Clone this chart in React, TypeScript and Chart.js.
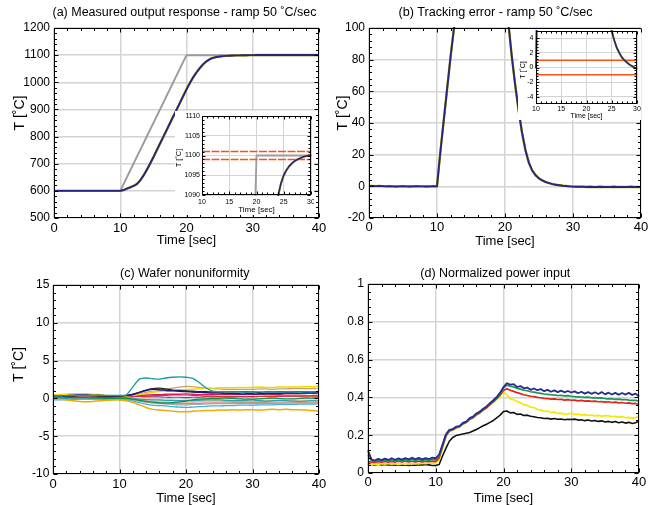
import { useEffect, useRef } from "react";
import { Chart, registerables } from "chart.js";

Chart.register(...registerables);

const FONT = '"Liberation Sans", Arial, Helvetica, sans-serif';
Chart.defaults.font.family = FONT;
Chart.defaults.color = "#000";

// ---------- shared time bases ----------
const TIME_HALF = [0, 0.5, 1, 1.5, 2, 2.5, 3, 3.5, 4, 4.5, 5, 5.5, 6, 6.5, 7, 7.5, 8, 8.5, 9, 9.5, 10, 10.5, 11, 11.5, 12, 12.5, 13, 13.5, 14, 14.5, 15, 15.5, 16, 16.5, 17, 17.5, 18, 18.5, 19, 19.5, 20, 20.5, 21, 21.5, 22, 22.5, 23, 23.5, 24, 24.5, 25, 25.5, 26, 26.5, 27, 27.5, 28, 28.5, 29, 29.5, 30, 30.5, 31, 31.5, 32, 32.5, 33, 33.5, 34, 34.5, 35, 35.5, 36, 36.5, 37, 37.5, 38, 38.5, 39, 39.5, 40];
const TIME_ONE = [0, 1, 2, 3, 4, 5, 6, 7, 8, 9, 10, 11, 12, 13, 14, 15, 16, 17, 18, 19, 20, 21, 22, 23, 24, 25, 26, 27, 28, 29, 30, 31, 32, 33, 34, 35, 36, 37, 38, 39, 40];

// ---------- tick labels ----------
const MAIN_X_TICKS = [0, 10, 20, 30, 40];
const INSET_X_TICKS = [10, 15, 20, 25, 30];
const INSET_X_RANGE = [10, 30];
const A_Y_TICKS = [500, 600, 700, 800, 900, 1000, 1100, 1200];
const INSET_A_Y_TICKS = [1090, 1095, 1100, 1105, 1110];
const B_Y_TICKS = [-20, 0, 20, 40, 60, 80, 100];
const INSET_B_Y_TICKS = [-4, -2, 0, 2, 4];
const INSET_B_Y_RANGE = [-5, 5];
const C_Y_TICKS = [-10, -5, 0, 5, 10, 15];
const D_Y_TICKS = [0, 0.2, 0.4, 0.6, 0.8, 1];

// ---------- (a) measured output response ----------
const REF_TIME = [0, 10, 20, 40];
const REF_TEMP = [600, 600, 1100, 1100];
const MEASURED_TEMP = [
  600, 600, 600, 600, 600, 600, 600, 600, 600, 600, 600, 600, 600, 600, 600, 600, 600, 600, 600, 600, 600,
  603, 608, 613, 618, 625, 638, 656, 677, 700, 724, 749, 774, 799, 824, 849, 874, 899, 924, 949, 974,
  997, 1018, 1036, 1052, 1066, 1077, 1085, 1090, 1093, 1095, 1096.3, 1097.3, 1098, 1098.6, 1099, 1099.3, 1099.6, 1099.8, 1100, 1100.2,
  1100.3, 1100.3, 1100.3, 1100.4, 1100.3, 1100.4, 1100.4, 1100.3, 1100.4, 1100.4, 1100.4, 1100.3, 1100.4, 1100.4, 1100.4, 1100.4, 1100.3, 1100.4, 1100.4, 1100.4,
];
const BAND_A = [1099, 1101];

// ---------- (b) tracking error ----------
const TRACK_ERR = [
  0.3, 0.2, 0.1, 0.2, 0.1, 0, 0.1, 0, -0.1, 0, 0.1, 0, -0.1, 0, 0.1, 0, 0, -0.1, 0, 0.1, 0,
  22, 42, 62, 82, 100, 112, 119, 123, 125, 126, 126, 126, 126, 126, 126, 126, 126, 126, 126, 126,
  103, 82, 64, 48, 34, 23, 15, 10, 7, 5, 3.7, 2.7, 2.0, 1.4, 1.0, 0.7, 0.4, 0.2, 0, -0.2,
  -0.3, -0.3, -0.3, -0.4, -0.3, -0.4, -0.4, -0.3, -0.4, -0.4, -0.4, -0.3, -0.4, -0.4, -0.4, -0.4, -0.3, -0.4, -0.4, -0.4,
];
const BAND_B = [-1, 1];

// ---------- (c) wafer nonuniformity (one value per second) ----------
const NU_TEAL = [0.3, 0.3, 0.35, 0.4, 0.4, 0.4, 0.4, 0.4, 0.4, 0.4, 0.4, 0.45, 1.5, 2.55, 2.7, 2.6, 2.55, 2.7, 2.8, 2.85, 2.8, 2.65, 2.1, 1.4, 0.95, 0.9, 0.9, 0.85, 0.85, 0.8, 0.85, 0.85, 0.8, 0.85, 0.8, 0.85, 0.85, 0.8, 0.85, 0.85, 0.9];
const NU_GOLD = [0.1, -0.1, -0.2, -0.3, -0.4, -0.45, -0.4, -0.3, -0.25, -0.2, -0.2, -0.3, -0.5, -0.85, -1.2, -1.45, -1.55, -1.6, -1.7, -1.75, -1.75, -1.7, -1.65, -1.6, -1.6, -1.55, -1.55, -1.5, -1.55, -1.5, -1.5, -1.55, -1.5, -1.45, -1.5, -1.45, -1.5, -1.5, -1.55, -1.6, -1.7];
const NU_YELLOW = [0.45, 0.5, 0.55, 0.6, 0.6, 0.6, 0.55, 0.5, 0.4, 0.3, 0.25, 0.3, 0.4, 0.5, 0.65, 0.8, 0.9, 1.0, 1.05, 1.1, 1.15, 1.2, 1.3, 1.35, 1.35, 1.4, 1.4, 1.4, 1.45, 1.45, 1.45, 1.5, 1.45, 1.45, 1.5, 1.5, 1.5, 1.5, 1.55, 1.55, 1.6];
const NU_TAN = [0.4, 0.4, 0.35, 0.3, 0.3, 0.3, 0.3, 0.3, 0.3, 0.3, 0.3, 0.35, 0.45, 0.6, 0.8, 0.95, 1.05, 1.2, 1.35, 1.5, 1.6, 1.55, 1.45, 1.35, 1.3, 1.25, 1.2, 1.2, 1.2, 1.2, 1.2, 1.25, 1.25, 1.2, 1.25, 1.25, 1.3, 1.3, 1.3, 1.3, 1.3];
const NU_NAVY = [0.3, 0.3, 0.35, 0.4, 0.45, 0.45, 0.4, 0.4, 0.35, 0.35, 0.35, 0.4, 0.55, 0.8, 1.05, 1.2, 1.15, 1.05, 1.0, 0.95, 0.9, 0.85, 0.8, 0.75, 0.7, 0.7, 0.65, 0.65, 0.6, 0.6, 0.6, 0.6, 0.65, 0.65, 0.65, 0.7, 0.7, 0.7, 0.75, 0.75, 0.8];
const NU_BLACK = [0.2, 0.25, 0.3, 0.3, 0.35, 0.35, 0.35, 0.3, 0.3, 0.3, 0.3, 0.35, 0.5, 0.8, 1.1, 1.3, 1.35, 1.25, 1.1, 1.05, 1.0, 0.95, 0.9, 0.9, 0.85, 0.85, 0.85, 0.85, 0.85, 0.85, 0.85, 0.8, 0.85, 0.85, 0.85, 0.85, 0.85, 0.85, 0.85, 0.85, 0.85];
const NU_CRIMSON = [0.2, 0.2, 0.25, 0.2, 0.2, 0.2, 0.2, 0.15, 0.15, 0.15, 0.15, 0.2, 0.25, 0.35, 0.45, 0.5, 0.5, 0.55, 0.55, 0.55, 0.6, 0.55, 0.5, 0.5, 0.5, 0.5, 0.5, 0.5, 0.5, 0.5, 0.5, 0.5, 0.55, 0.55, 0.55, 0.6, 0.6, 0.6, 0.65, 0.65, 0.65];
const NU_RED = [0.35, 0.35, 0.3, 0.3, 0.3, 0.3, 0.3, 0.3, 0.25, 0.25, 0.25, 0.25, 0.3, 0.3, 0.3, 0.35, 0.4, 0.4, 0.45, 0.45, 0.45, 0.4, 0.35, 0.3, 0.3, 0.25, 0.25, 0.2, 0.2, 0.2, 0.2, 0.25, 0.25, 0.25, 0.3, 0.3, 0.3, 0.3, 0.3, 0.3, 0.3];
const NU_PURPLE = [0.5, 0.5, 0.45, 0.45, 0.4, 0.4, 0.4, 0.35, 0.35, 0.3, 0.3, 0.3, 0.3, 0.25, 0.2, 0.2, 0.2, 0.15, 0.15, 0.15, 0.1, 0.15, 0.15, 0.2, 0.2, 0.2, 0.2, 0.2, 0.25, 0.25, 0.25, 0.25, 0.3, 0.3, 0.3, 0.3, 0.3, 0.3, 0.35, 0.35, 0.35];
const NU_GREEN = [0.2, 0.2, 0.15, 0.1, 0.1, 0.1, 0.05, 0.05, 0, 0, 0, 0, -0.1, -0.25, -0.4, -0.5, -0.6, -0.6, -0.55, -0.45, -0.35, -0.2, -0.1, -0.05, 0, 0, 0.05, 0, -0.05, -0.1, -0.1, -0.05, 0, 0.05, 0, -0.05, -0.05, 0, 0.05, 0.05, 0.1];
const NU_CYAN = [0, 0, 0, 0.05, 0.05, 0.05, 0.05, 0.05, 0.05, 0, 0, 0, -0.05, -0.1, -0.15, -0.2, -0.2, -0.25, -0.25, -0.3, -0.3, -0.3, -0.25, -0.2, -0.2, -0.2, -0.25, -0.3, -0.3, -0.25, -0.2, -0.3, -0.35, -0.3, -0.25, -0.3, -0.35, -0.4, -0.35, -0.3, -0.35];
const NU_SKY = [-0.2, -0.2, -0.15, -0.15, -0.1, -0.1, -0.1, -0.1, -0.15, -0.15, -0.15, -0.2, -0.35, -0.55, -0.75, -0.9, -0.95, -1.0, -1.1, -1.15, -1.2, -1.15, -1.1, -1.05, -1.0, -1.0, -0.95, -0.95, -0.9, -0.9, -0.9, -0.85, -0.85, -0.85, -0.8, -0.8, -0.8, -0.75, -0.75, -0.75, -0.7];
const NU_PINK = [0.1, 0.1, 0.1, 0.05, 0.05, 0.05, 0.05, 0.05, 0.1, 0.1, 0.1, 0.05, -0.05, -0.15, -0.3, -0.4, -0.45, -0.5, -0.5, -0.5, -0.5, -0.5, -0.45, -0.45, -0.45, -0.45, -0.4, -0.4, -0.4, -0.4, -0.4, -0.4, -0.4, -0.4, -0.45, -0.45, -0.45, -0.45, -0.45, -0.45, -0.45];
const NU_BROWN = [0.15, 0.15, 0.1, 0.05, 0.05, 0.05, 0, 0, 0, 0, 0, -0.05, -0.15, -0.3, -0.45, -0.55, -0.6, -0.65, -0.7, -0.7, -0.7, -0.65, -0.65, -0.6, -0.6, -0.6, -0.6, -0.55, -0.55, -0.55, -0.55, -0.55, -0.55, -0.6, -0.6, -0.6, -0.55, -0.55, -0.55, -0.55, -0.55];
const NU_GREY = [0, 0, 0, 0, -0.05, -0.05, -0.05, -0.05, -0.05, -0.05, -0.05, -0.1, -0.2, -0.35, -0.5, -0.6, -0.7, -0.75, -0.8, -0.85, -0.85, -0.8, -0.8, -0.75, -0.7, -0.7, -0.7, -0.7, -0.7, -0.65, -0.65, -0.65, -0.65, -0.65, -0.6, -0.6, -0.6, -0.6, -0.6, -0.6, -0.6];
const NU_PEACH = [0.35, 0.35, 0.3, 0.3, 0.25, 0.25, 0.25, 0.2, 0.2, 0.2, 0.2, 0.15, 0.1, 0, -0.1, -0.2, -0.25, -0.3, -0.3, -0.3, -0.3, -0.3, -0.3, -0.25, -0.25, -0.25, -0.25, -0.25, -0.3, -0.3, -0.3, -0.3, -0.3, -0.3, -0.3, -0.3, -0.3, -0.25, -0.25, -0.25, -0.25];

// ---------- (d) normalized power input (every 0.5 s) ----------
const POWER_NAVY = [
  0.120, 0.072, 0.066, 0.075, 0.068, 0.076, 0.069, 0.078, 0.070, 0.077, 0.071, 0.079, 0.072, 0.081, 0.073, 0.080, 0.072, 0.079, 0.074, 0.081, 0.078,
  0.098, 0.150, 0.205, 0.228, 0.232, 0.245, 0.248, 0.265, 0.272, 0.290, 0.298, 0.315, 0.325, 0.340, 0.352, 0.370, 0.385, 0.402, 0.425, 0.455,
  0.475, 0.468, 0.470, 0.455, 0.460, 0.448, 0.452, 0.440, 0.447, 0.438, 0.444, 0.433, 0.440, 0.430, 0.437, 0.428, 0.436, 0.427, 0.434, 0.426,
  0.432, 0.422, 0.430, 0.420, 0.428, 0.419, 0.427, 0.418, 0.428, 0.416, 0.425, 0.415, 0.424, 0.414, 0.423, 0.415, 0.424, 0.413, 0.420, 0.405,
];
const POWER_GREEN = [
  0.095, 0.066, 0.062, 0.068, 0.063, 0.069, 0.064, 0.070, 0.065, 0.071, 0.065, 0.071, 0.066, 0.072, 0.066, 0.072, 0.066, 0.071, 0.067, 0.073, 0.072,
  0.090, 0.145, 0.200, 0.225, 0.230, 0.242, 0.247, 0.262, 0.270, 0.287, 0.296, 0.312, 0.322, 0.337, 0.350, 0.367, 0.382, 0.398, 0.420, 0.450,
  0.465, 0.460, 0.455, 0.448, 0.444, 0.438, 0.435, 0.430, 0.428, 0.424, 0.421, 0.418, 0.416, 0.414, 0.412, 0.410, 0.411, 0.408, 0.409, 0.406,
  0.404, 0.403, 0.402, 0.400, 0.401, 0.398, 0.399, 0.396, 0.397, 0.394, 0.392, 0.393, 0.390, 0.391, 0.388, 0.389, 0.386, 0.384, 0.385, 0.378,
];
const POWER_RED = [
  0.060, 0.058, 0.056, 0.060, 0.057, 0.061, 0.057, 0.061, 0.058, 0.062, 0.058, 0.062, 0.058, 0.062, 0.059, 0.063, 0.059, 0.062, 0.060, 0.063, 0.062,
  0.080, 0.140, 0.195, 0.222, 0.228, 0.240, 0.245, 0.260, 0.268, 0.284, 0.293, 0.308, 0.318, 0.333, 0.345, 0.362, 0.377, 0.393, 0.412, 0.438,
  0.445, 0.438, 0.432, 0.425, 0.420, 0.414, 0.410, 0.406, 0.404, 0.400, 0.398, 0.395, 0.394, 0.391, 0.392, 0.389, 0.390, 0.386, 0.388, 0.385,
  0.386, 0.382, 0.384, 0.380, 0.382, 0.379, 0.380, 0.377, 0.378, 0.375, 0.377, 0.373, 0.375, 0.371, 0.373, 0.369, 0.371, 0.367, 0.368, 0.362,
];
const POWER_YELLOW = [
  0.040, 0.045, 0.048, 0.046, 0.050, 0.047, 0.051, 0.047, 0.050, 0.046, 0.049, 0.046, 0.050, 0.047, 0.051, 0.048, 0.052, 0.049, 0.053, 0.050, 0.055,
  0.070, 0.130, 0.190, 0.220, 0.226, 0.235, 0.243, 0.258, 0.265, 0.283, 0.290, 0.308, 0.317, 0.333, 0.343, 0.360, 0.374, 0.390, 0.408, 0.430,
  0.412, 0.392, 0.388, 0.378, 0.372, 0.362, 0.358, 0.348, 0.346, 0.336, 0.334, 0.326, 0.328, 0.320, 0.322, 0.315, 0.317, 0.311, 0.313, 0.316,
  0.310, 0.312, 0.306, 0.309, 0.304, 0.307, 0.302, 0.305, 0.300, 0.304, 0.302, 0.299, 0.300, 0.296, 0.298, 0.292, 0.294, 0.290, 0.293, 0.300,
];
const POWER_BLACK = [
  0.050, 0.045, 0.043, 0.046, 0.042, 0.045, 0.042, 0.044, 0.041, 0.044, 0.041, 0.043, 0.040, 0.043, 0.041, 0.044, 0.042, 0.045, 0.043, 0.040, 0.040,
  0.045, 0.090, 0.130, 0.168, 0.188, 0.198, 0.202, 0.206, 0.210, 0.214, 0.222, 0.230, 0.240, 0.250, 0.258, 0.268, 0.278, 0.292, 0.306, 0.325,
  0.328, 0.318, 0.320, 0.310, 0.312, 0.304, 0.306, 0.300, 0.298, 0.294, 0.292, 0.288, 0.290, 0.285, 0.288, 0.284, 0.286, 0.282, 0.284, 0.283,
  0.285, 0.280, 0.282, 0.277, 0.280, 0.275, 0.278, 0.273, 0.276, 0.270, 0.273, 0.268, 0.272, 0.266, 0.270, 0.264, 0.268, 0.262, 0.266, 0.275,
];

// ---------- helpers ----------
type Box = { left: number; top: number; width: number; height: number };
type Area = { left: number; top: number; right: number; bottom: number };
type Txt = { text: string; x: number; y: number; size: number };
type PanelSpec = {
  id: string;
  box: Box;
  area: Area;
  xRange: number[];
  yRange: number[];
  xTicks: number[];
  yTicks: number[];
  xFont: number;
  yFont: number;
  xPad: number;
  yPad: number;
  xTitle?: { text: string; size: number; lineHeight: number; pad: number };
  title?: Txt;
  yTitle?: Txt;
  minor: number;
  majorLen: number;
  minorLen: number;
  gridWidth: number;
  gridColor: string;
  background?: string;
  datasets: any[];
};

function series(xs: number[], ys: number[], color: string, width: number, extra: any = {}) {
  return {
    data: ys.map((y, i) => ({ x: xs[i], y })),
    borderColor: color,
    backgroundColor: color,
    borderWidth: width,
    pointRadius: 0,
    fill: false,
    tension: 0,
    clip: 1,
    borderJoinStyle: "round",
    ...extra,
  };
}

function flat(range: number[], v: number, color: string, width: number, extra: any = {}) {
  return series(range, [v, v], color, width, extra);
}

function makeFramePlugin(spec: PanelSpec) {
  return {
    id: "frame_" + spec.id,
    afterDraw(chart: any) {
      const { ctx, chartArea: a, scales } = chart;
      const xs = scales.x;
      const ys = scales.y;
      const L = Math.round(a.left) + 0.5;
      const R = Math.round(a.right) - 0.5;
      const T = Math.round(a.top) + 0.5;
      const B = Math.round(a.bottom) - 0.5;
      const subdivide = (ticks: number[], n: number) => {
        const out: [number, boolean][] = [];
        for (let i = 0; i < ticks.length; i++) {
          out.push([ticks[i], true]);
          if (i < ticks.length - 1) {
            for (let k = 1; k < n; k++) out.push([ticks[i] + ((ticks[i + 1] - ticks[i]) * k) / n, false]);
          }
        }
        return out;
      };
      ctx.save();
      ctx.strokeStyle = "#000";
      ctx.lineWidth = 1;
      ctx.beginPath();
      for (const [v, major] of subdivide(spec.xTicks, spec.minor)) {
        const p = Math.round(xs.getPixelForValue(v)) + 0.5;
        const len = major ? spec.majorLen : spec.minorLen;
        ctx.moveTo(p, B);
        ctx.lineTo(p, B - len);
        ctx.moveTo(p, T);
        ctx.lineTo(p, T + len);
      }
      for (const [v, major] of subdivide(spec.yTicks, spec.minor)) {
        const p = Math.round(ys.getPixelForValue(v)) + 0.5;
        const len = major ? spec.majorLen : spec.minorLen;
        ctx.moveTo(L, p);
        ctx.lineTo(L + len, p);
        ctx.moveTo(R, p);
        ctx.lineTo(R - len, p);
      }
      ctx.stroke();
      ctx.strokeRect(L, T, R - L, B - T);
      ctx.fillStyle = "#000";
      ctx.textAlign = "center";
      ctx.textBaseline = "middle";
      if (spec.title) {
        ctx.font = `${spec.title.size}px ${FONT}`;
        ctx.fillText(spec.title.text, spec.title.x - spec.box.left, spec.title.y - spec.box.top);
      }
      if (spec.yTitle) {
        ctx.font = `${spec.yTitle.size}px ${FONT}`;
        ctx.translate(spec.yTitle.x - spec.box.left, spec.yTitle.y - spec.box.top);
        ctx.rotate(-Math.PI / 2);
        ctx.fillText(spec.yTitle.text, 0, 0);
      }
      ctx.restore();
    },
  };
}

function buildConfig(spec: PanelSpec): any {
  const { box, area } = spec;
  const yWidth = area.left - box.left;
  const xHeight = box.top + box.height - area.bottom;
  return {
    type: "line",
    data: { datasets: spec.datasets },
    options: {
      responsive: false,
      maintainAspectRatio: false,
      animation: false,
      devicePixelRatio: 1,
      events: [],
      layout: {
        autoPadding: false,
        padding: { left: 0, top: area.top - box.top, right: box.left + box.width - area.right, bottom: 0 },
      },
      plugins: { legend: { display: false }, tooltip: { enabled: false }, title: { display: false } },
      scales: {
        x: {
          type: "linear",
          min: spec.xRange[0],
          max: spec.xRange[1],
          afterBuildTicks: (s: any) => {
            s.ticks = spec.xTicks.map((v) => ({ value: v }));
          },
          afterFit: (s: any) => {
            s.height = xHeight;
            s.paddingLeft = 0;
            s.paddingRight = 0;
          },
          ticks: {
            autoSkip: false,
            maxRotation: 0,
            minRotation: 0,
            padding: spec.xPad,
            color: "#000",
            font: { size: spec.xFont, family: FONT },
            callback: (v: any) => String(v),
          },
          grid: { color: spec.gridColor, lineWidth: spec.gridWidth, drawTicks: false },
          border: { display: false },
          title: spec.xTitle
            ? {
                display: true,
                text: spec.xTitle.text,
                color: "#000",
                font: { size: spec.xTitle.size, family: FONT, lineHeight: spec.xTitle.lineHeight },
                padding: { top: 0, bottom: spec.xTitle.pad },
              }
            : { display: false },
        },
        y: {
          type: "linear",
          min: spec.yRange[0],
          max: spec.yRange[1],
          afterBuildTicks: (s: any) => {
            s.ticks = spec.yTicks.map((v) => ({ value: v }));
          },
          afterFit: (s: any) => {
            s.width = yWidth;
            s.paddingTop = 0;
            s.paddingBottom = 0;
          },
          ticks: {
            autoSkip: false,
            padding: spec.yPad,
            color: "#000",
            font: { size: spec.yFont, family: FONT },
            callback: (v: any) => String(v),
          },
          grid: { color: spec.gridColor, lineWidth: spec.gridWidth, drawTicks: false },
          border: { display: false },
        },
      },
    },
    plugins: [makeFramePlugin(spec)],
  };
}

// ---------- panel specifications ----------
const NAVY = "#262680";
const OLIVE = "#b8a800";
const GREY = "#9c9c9c";
const ORANGE = "#ff5014";
const GRID = "#d4d4d4";

const PANELS: PanelSpec[] = [
  {
    id: "a",
    box: { left: 0, top: 0, width: 332, height: 250 },
    area: { left: 54, top: 28, right: 319, bottom: 218 },
    xRange: [0, 40],
    yRange: [500, 1200],
    xTicks: MAIN_X_TICKS,
    yTicks: A_Y_TICKS,
    xFont: 13,
    yFont: 12,
    xPad: 3,
    yPad: 4,
    xTitle: { text: "Time [sec]", size: 13, lineHeight: 1.2, pad: 1.7 },
    title: { text: "(a) Measured output response - ramp 50 ˚C/sec", x: 184.5, y: 13, size: 12.5 },
    yTitle: { text: "T [˚C]", x: 20, y: 113, size: 14 },
    minor: 5,
    majorLen: 4,
    minorLen: 2.5,
    gridWidth: 1.5,
    gridColor: GRID,
    datasets: [
      series(TIME_HALF, MEASURED_TEMP, NAVY, 1.9),
      series(TIME_HALF, MEASURED_TEMP, OLIVE, 2.4),
      series(REF_TIME, REF_TEMP, GREY, 2),
    ],
  },
  {
    id: "b",
    box: { left: 325, top: 0, width: 325, height: 250 },
    area: { left: 369, top: 28, right: 641, bottom: 218 },
    xRange: [0, 40],
    yRange: [-20, 100],
    xTicks: MAIN_X_TICKS,
    yTicks: B_Y_TICKS,
    xFont: 13,
    yFont: 12,
    xPad: 2,
    yPad: 4,
    xTitle: { text: "Time [sec]", size: 13, lineHeight: 1.2, pad: 1 },
    title: { text: "(b) Tracking error - ramp 50 ˚C/sec", x: 495.5, y: 13, size: 12.6 },
    yTitle: { text: "T [˚C]", x: 343, y: 113, size: 14 },
    minor: 5,
    majorLen: 4,
    minorLen: 2.5,
    gridWidth: 1.5,
    gridColor: GRID,
    datasets: [series(TIME_HALF, TRACK_ERR, NAVY, 1.9), series(TIME_HALF, TRACK_ERR, OLIVE, 2.4)],
  },
  {
    id: "c",
    box: { left: 0, top: 250, width: 332, height: 255 },
    area: { left: 53, top: 285, right: 319, bottom: 474 },
    xRange: [0, 40],
    yRange: [-10, 15],
    xTicks: MAIN_X_TICKS,
    yTicks: C_Y_TICKS,
    xFont: 13,
    yFont: 12,
    xPad: 3,
    yPad: 3.7,
    xTitle: { text: "Time [sec]", size: 13, lineHeight: 1.0, pad: 0.5 },
    title: { text: "(c) Wafer nonuniformity", x: 184.7, y: 273.5, size: 12.5 },
    yTitle: { text: "T [˚C]", x: 19.5, y: 364.5, size: 14 },
    minor: 5,
    majorLen: 4,
    minorLen: 2.5,
    gridWidth: 1.5,
    gridColor: GRID,
    datasets: [
      series(TIME_ONE, NU_TEAL, "#1a98aa", 1.3, { tension: 0.3 }),
      series(TIME_ONE, NU_NAVY, "#1c1c78", 1.5, { tension: 0.3 }),
      series(TIME_ONE, NU_BLACK, "#222222", 1.2, { tension: 0.3 }),
      series(TIME_ONE, NU_YELLOW, "#f2d600", 1.5, { tension: 0.3 }),
      series(TIME_ONE, NU_TAN, "#c9a26a", 1.3, { tension: 0.3 }),
      series(TIME_ONE, NU_GOLD, "#f2a900", 1.5, { tension: 0.3 }),
      series(TIME_ONE, NU_CRIMSON, "#d81b60", 1.3, { tension: 0.3 }),
      series(TIME_ONE, NU_RED, "#e82b20", 1.2, { tension: 0.3 }),
      series(TIME_ONE, NU_GREEN, "#0e9150", 1.3, { tension: 0.3 }),
      series(TIME_ONE, NU_SKY, "#3cb0e4", 1.3, { tension: 0.3 }),
      series(TIME_ONE, NU_CYAN, "#2f9fb3", 1.2, { tension: 0.3 }),
      series(TIME_ONE, NU_PURPLE, "#7b3fa0", 1.2, { tension: 0.3 }),
      series(TIME_ONE, NU_PINK, "#f4a3a8", 1.2, { tension: 0.3 }),
      series(TIME_ONE, NU_BROWN, "#b8977a", 1.2, { tension: 0.3 }),
      series(TIME_ONE, NU_GREY, "#a9a9a9", 1.2, { tension: 0.3 }),
      series(TIME_ONE, NU_PEACH, "#f7c48a", 1.2, { tension: 0.3 }),
    ],
  },
  {
    id: "d",
    box: { left: 325, top: 250, width: 325, height: 255 },
    area: { left: 368, top: 284, right: 639, bottom: 473 },
    xRange: [0, 40],
    yRange: [0, 1],
    xTicks: MAIN_X_TICKS,
    yTicks: D_Y_TICKS,
    xFont: 13,
    yFont: 12,
    xPad: 1.5,
    yPad: 4,
    xTitle: { text: "Time [sec]", size: 13, lineHeight: 1.0, pad: 0.5 },
    title: { text: "(d) Normalized power input", x: 495.3, y: 273.5, size: 12.5 },
    minor: 5,
    majorLen: 4,
    minorLen: 2.5,
    gridWidth: 1.5,
    gridColor: GRID,
    datasets: [
      series(TIME_HALF, POWER_NAVY, "#2a2a8e", 1.8),
      series(TIME_HALF, POWER_GREEN, "#12985a", 1.7),
      series(TIME_HALF, POWER_RED, "#e2231c", 1.7),
      series(TIME_HALF, POWER_YELLOW, "#f2ea00", 1.7),
      series(TIME_HALF, POWER_BLACK, "#111111", 1.6),
    ],
  },
  {
    id: "ia",
    box: { left: 175, top: 111, width: 139, height: 104 },
    area: { left: 202, top: 116, right: 311, bottom: 195 },
    xRange: INSET_X_RANGE,
    yRange: [1090, 1110],
    xTicks: INSET_X_TICKS,
    yTicks: INSET_A_Y_TICKS,
    xFont: 7,
    yFont: 7,
    xPad: 2.5,
    yPad: 2,
    xTitle: { text: "Time [sec]", size: 8, lineHeight: 1.0, pad: 1 },
    yTitle: { text: "T [˚C]", x: 178.5, y: 158, size: 7.5 },
    minor: 5,
    majorLen: 3,
    minorLen: 2,
    gridWidth: 1,
    gridColor: GRID,
    background: "#ffffff",
    datasets: [
      series(TIME_HALF, MEASURED_TEMP, NAVY, 1.6),
      series(TIME_HALF, MEASURED_TEMP, OLIVE, 2.1),
      flat(INSET_X_RANGE, BAND_A[0], ORANGE, 1.5, { borderDash: [8, 1.5] }),
      flat(INSET_X_RANGE, BAND_A[1], ORANGE, 1.5, { borderDash: [8, 1.5] }),
      series(REF_TIME, REF_TEMP, GREY, 1.8),
    ],
  },
  {
    id: "ib",
    box: { left: 518, top: 29, width: 123, height: 91 },
    area: { left: 536, top: 31, right: 637, bottom: 104 },
    xRange: INSET_X_RANGE,
    yRange: INSET_B_Y_RANGE,
    xTicks: INSET_X_TICKS,
    yTicks: INSET_B_Y_TICKS,
    xFont: 7,
    yFont: 7,
    xPad: 0.8,
    yPad: 2.5,
    xTitle: { text: "Time [sec]", size: 7, lineHeight: 1.0, pad: 0.2 },
    yTitle: { text: "T [˚C]", x: 523.5, y: 70, size: 7 },
    minor: 5,
    majorLen: 3,
    minorLen: 2,
    gridWidth: 1,
    gridColor: GRID,
    background: "#ffffff",
    datasets: [
      series(TIME_HALF, TRACK_ERR, NAVY, 1.6),
      series(TIME_HALF, TRACK_ERR, OLIVE, 2.1),
      flat(INSET_X_RANGE, BAND_B[0], ORANGE, 1.5),
      flat(INSET_X_RANGE, BAND_B[1], ORANGE, 1.5),
    ],
  },
];

function ChartPanel({ spec }: { spec: PanelSpec }) {
  const ref = useRef<HTMLCanvasElement | null>(null);
  useEffect(() => {
    if (!ref.current) return;
    const chart = new Chart(ref.current, buildConfig(spec));
    return () => chart.destroy();
  }, [spec]);
  const b = spec.box;
  return (
    <canvas
      ref={ref}
      width={b.width}
      height={b.height}
      style={{
        position: "absolute",
        left: b.left,
        top: b.top,
        width: b.width,
        height: b.height,
        background: spec.background ?? "transparent",
      }}
    />
  );
}

export default function App() {
  return (
    <div
      style={{
        position: "absolute",
        left: 0,
        top: 0,
        width: 650,
        height: 505,
        background: "#ffffff",
        overflow: "hidden",
      }}
    >
      {PANELS.map((p) => (
        <ChartPanel key={p.id} spec={p} />
      ))}
    </div>
  );
}
